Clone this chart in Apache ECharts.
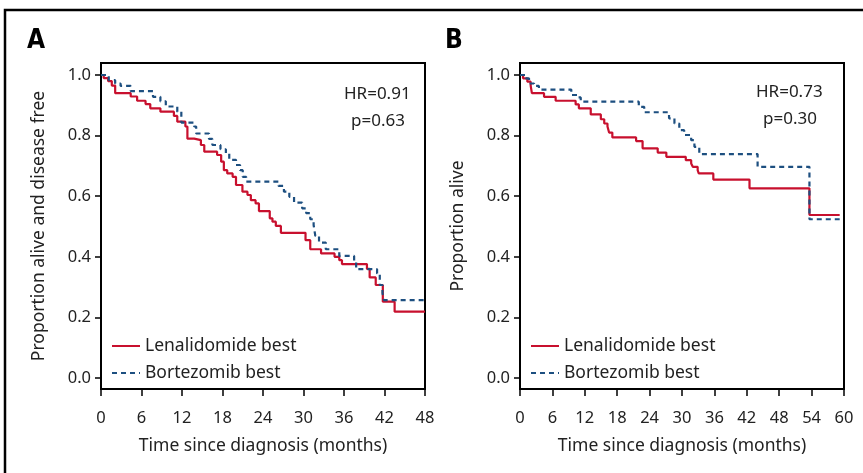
<!DOCTYPE html>
<html><head><meta charset="utf-8">
<script src="https://cdn.jsdelivr.net/npm/echarts@6/dist/echarts.min.js"></script>
<style>html,body{margin:0;padding:0;background:#fff}#c{width:863px;height:473px}</style>
</head><body><div id="c"></div>
<script>
// ---- Data ----
const seriesNames = ["Lenalidomide best", "Bortezomib best"];
const yTicks = [0, 0.2, 0.4, 0.6, 0.8, 1.0];

// Panel A: progression-free (time in months, proportion)
const aLenTime = [0,0.4,1.05,1.6,2.1,4.4,5.35,6.6,7.3,8.8,10.8,11.3,12.5,12.8,13.8,14.8,15.3,17.2,17.8,18.2,18.7,19.5,20.0,20.95,21.7,22.2,22.9,23.4,25.0,25.4,25.9,26.65,30.3,31.0,32.6,34.6,35.3,35.7,39.4,39.8,40.7,41.75,43.5,48];
const aLenSurv = [1.0,0.99,0.98,0.965,0.94,0.929,0.915,0.904,0.89,0.879,0.865,0.846,0.83,0.79,0.785,0.769,0.747,0.736,0.714,0.686,0.675,0.664,0.637,0.615,0.604,0.587,0.576,0.551,0.527,0.516,0.502,0.479,0.455,0.425,0.411,0.40,0.389,0.376,0.36,0.332,0.307,0.252,0.219,0.219];
const aBorTime = [0,1.15,2.1,2.9,4.4,7.7,8.8,9.6,11.3,11.9,13.8,14.1,16.0,16.5,17.7,18.5,19.0,20.0,20.6,21.0,21.5,26.3,27.1,27.9,28.6,29.8,30.4,31.0,31.5,31.75,32.3,33.3,35.3,37.5,37.8,40.9,41.3,41.7,41.9,48];
const aBorSurv = [1.0,0.983,0.972,0.964,0.947,0.928,0.913,0.896,0.879,0.843,0.83,0.807,0.789,0.769,0.755,0.742,0.72,0.703,0.686,0.664,0.648,0.634,0.615,0.598,0.579,0.56,0.544,0.524,0.505,0.469,0.447,0.425,0.403,0.384,0.359,0.345,0.307,0.28,0.257,0.257];

// Panel B: overall survival
const bLenTime = [0,0.56,1.36,1.98,2.2,4.45,6.6,10.3,10.9,13.1,14.97,15.6,16.2,16.5,17.1,21.5,22.7,25.5,27.1,30.7,31.7,32.0,32.9,33.1,35.8,42.5,53.6,59.2];
const bLenSurv = [1.0,0.989,0.978,0.964,0.94,0.928,0.915,0.903,0.89,0.87,0.854,0.84,0.83,0.81,0.794,0.782,0.758,0.744,0.73,0.719,0.708,0.697,0.686,0.675,0.655,0.626,0.538,0.538];
const bBorTime = [0,1.05,1.67,2.6,3.5,9.5,10.6,11.25,22.0,23.0,27.6,28.6,29.5,30.4,31.7,32.3,33.2,44.0,53.6,59.2];
const bBorSurv = [1.0,0.989,0.972,0.964,0.952,0.934,0.926,0.912,0.895,0.877,0.857,0.84,0.818,0.802,0.785,0.763,0.739,0.697,0.524,0.524];

const stats = { A: ["HR=0.91", "p=0.63"], B: ["HR=0.73", "p=0.30"] };
const xTitle = "Time since diagnosis (months)";
const yTitleA = "Proportion alive and disease free";
const yTitleB = "Proportion alive";

// ---- Build ----
const RED = "#c8102e", BLUE = "#1d4f80";
const FONT = "Noto Sans";
const zip = (t, s) => t.map((v, i) => [v, s[i]]);

function xAxis(gi, max) {
  return {
    type: "value", gridIndex: gi, min: 0, max: max, interval: 6,
    name: xTitle, nameLocation: "middle", nameGap: 48,
    nameTextStyle: { fontFamily: FONT, fontSize: 17.5, color: "#222" },
    axisLine: { show: false, onZero: false },
    axisTick: { show: true, inside: false, length: 7, lineStyle: { color: "#000", width: 1.5 } },
    axisLabel: { fontFamily: FONT, fontSize: 16.5, color: "#222", margin: 21 },
    splitLine: { show: false }
  };
}
function yAxis(gi, name) {
  return {
    type: "value", gridIndex: gi, min: -0.0363, max: 1.0396,
    name: name, nameLocation: "middle", nameGap: 53,
    nameTextStyle: { fontFamily: FONT, fontSize: 17.5, color: "#222" },
    axisLine: { show: false, onZero: false },
    axisTick: { show: true, inside: false, length: 6, customValues: yTicks, lineStyle: { color: "#000", width: 1.5 } },
    axisLabel: { fontFamily: FONT, fontSize: 16.5, color: "#222", margin: 10, customValues: yTicks,
      formatter: v => v.toFixed(1) },
    splitLine: { show: false }
  };
}
function km(name, data, gi, color, dashed) {
  return {
    type: "line", name: name, xAxisIndex: gi, yAxisIndex: gi, data: data,
    step: "end", symbol: "none", silent: true,
    lineStyle: { color: color, width: 2.2, type: dashed ? [5, 4] : "solid" },
    itemStyle: { color: color }
  };
}
function legend(left) {
  return {
    data: seriesNames, orient: "vertical", left: left, top: 332,
    itemWidth: 28, itemHeight: 14, itemGap: 9, selectedMode: false,
    itemStyle: { opacity: 0, borderWidth: 0 },
    textStyle: { fontFamily: FONT, fontSize: 17.5, color: "#222" }
  };
}
function txt(x, y, s) {
  return { type: "text", left: x, top: y,
    style: { text: s, font: "17px 'Noto Sans'", fill: "#222" } };
}

const chart = echarts.init(document.getElementById("c"), null, { renderer: "canvas" });
chart.setOption({
  animation: false,
  backgroundColor: "#fff",
  grid: [
    { left: 101, top: 63, width: 324, height: 326, show: true, borderColor: "#000", borderWidth: 2, backgroundColor: "transparent" },
    { left: 520, top: 63, width: 324, height: 326, show: true, borderColor: "#000", borderWidth: 2, backgroundColor: "transparent" }
  ],
  xAxis: [xAxis(0, 48), xAxis(1, 60)],
  yAxis: [yAxis(0, yTitleA), yAxis(1, yTitleB)],
  legend: [legend(106), legend(525)],
  series: [
    km(seriesNames[0], zip(aLenTime, aLenSurv), 0, RED, false),
    km(seriesNames[1], zip(aBorTime, aBorSurv), 0, BLUE, true),
    km(seriesNames[0], zip(bLenTime, bLenSurv), 1, RED, false),
    km(seriesNames[1], zip(bBorTime, bBorSurv), 1, BLUE, true)
  ],
  graphic: [
    { type: "rect", shape: { x: 5, y: 10, width: 900, height: 500 }, style: { fill: "none", stroke: "#000", lineWidth: 2.5 } },
    { type: "text", left: 27, top: 28, style: { text: "A", font: "bold 26px 'DejaVu Sans Condensed'", fill: "#000" } },
    { type: "text", left: 445, top: 28, style: { text: "B", font: "bold 26px 'DejaVu Sans Condensed'", fill: "#000" } },
    txt(344, 86, stats.A[0]), txt(351, 113, stats.A[1]),
    txt(756, 84, stats.B[0]), txt(763, 111, stats.B[1])
  ]
});
</script></body></html>
